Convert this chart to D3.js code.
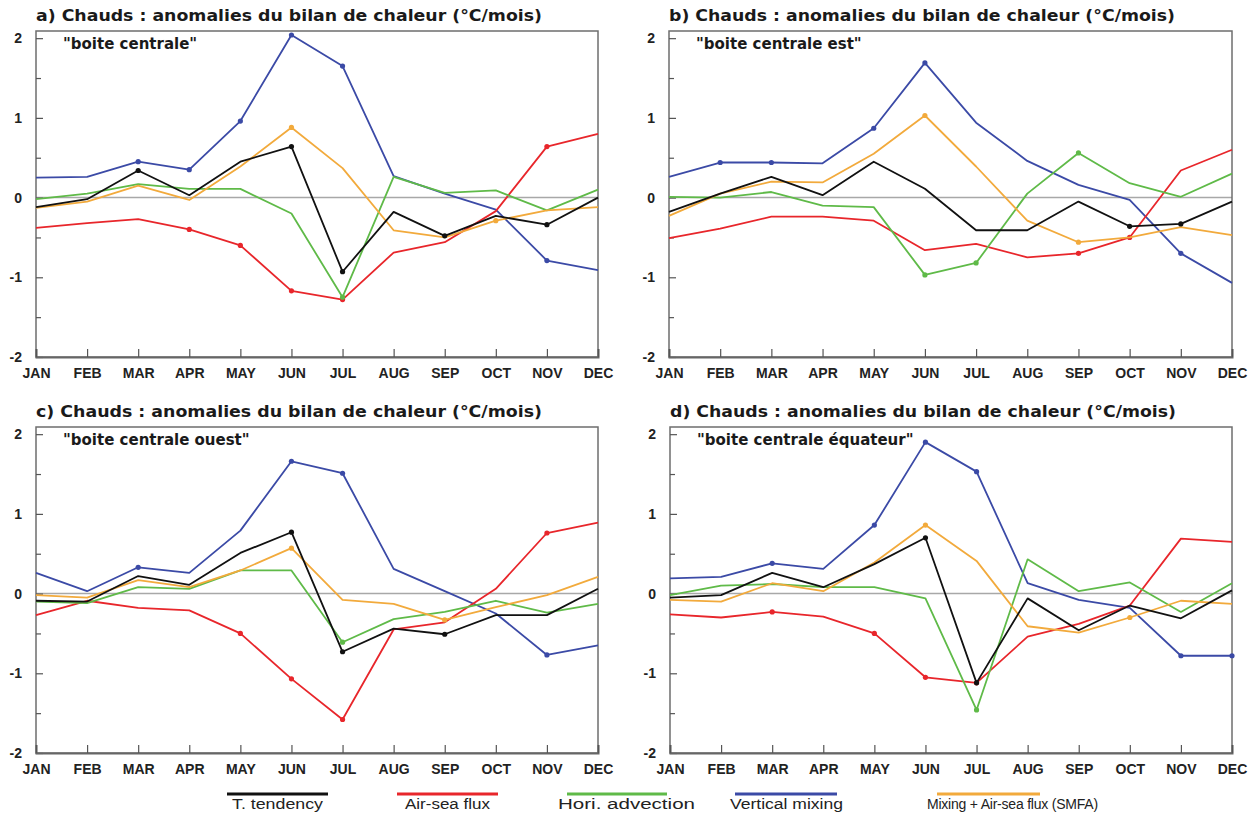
<!DOCTYPE html>
<html>
<head>
<meta charset="utf-8">
<script src="https://cdn.jsdelivr.net/npm/d3@7"></script>
<style>
  html, body { margin: 0; padding: 0; background: #fff; }
  svg { display: block; }
</style>
</head>
<body>
<svg id="chart" width="1257" height="814"></svg>
<script>
// Months on the x axis and integer ticks on the y axis
const months = ["JAN","FEB","MAR","APR","MAY","JUN","JUL","AUG","SEP","OCT","NOV","DEC"];
const yMajorTicks = [-2, -1, 0, 1, 2];
const yMinorTicks = [-1.5, -0.5, 0.5, 1.5];

// Heat-budget terms
const seriesNames = ["T. tendency", "Air-sea flux", "Hori. advection", "Vertical mixing", "Mixing + Air-sea flux (SMFA)"];
const seriesColors = ["#111111", "#e8262b", "#5fba48", "#3b4aa6", "#f2aa3c"];

// a) boite centrale
const tendA = [-0.12, -0.02, 0.34, 0.03, 0.45, 0.64, -0.93, -0.18, -0.48, -0.23, -0.34, 0.00];
const airA  = [-0.38, -0.32, -0.27, -0.40, -0.60, -1.17, -1.28, -0.69, -0.56, -0.17, 0.64, 0.80];
const advA  = [-0.02, 0.05, 0.17, 0.11, 0.11, -0.20, -1.25, 0.26, 0.06, 0.09, -0.16, 0.10];
const mixA  = [0.25, 0.26, 0.45, 0.35, 0.96, 2.04, 1.65, 0.27, 0.05, -0.15, -0.79, -0.91];
const smfaA = [-0.13, -0.05, 0.15, -0.03, 0.39, 0.88, 0.37, -0.41, -0.50, -0.29, -0.16, -0.12];

// b) boite centrale est
const tendB = [-0.18, 0.05, 0.26, 0.03, 0.45, 0.11, -0.41, -0.41, -0.05, -0.36, -0.33, -0.05];
const airB  = [-0.51, -0.39, -0.24, -0.24, -0.29, -0.66, -0.58, -0.75, -0.70, -0.50, 0.34, 0.60];
const advB  = [0.01, 0.00, 0.07, -0.10, -0.12, -0.97, -0.82, 0.05, 0.56, 0.18, 0.01, 0.30];
const mixB  = [0.26, 0.44, 0.44, 0.43, 0.87, 1.69, 0.94, 0.46, 0.16, -0.03, -0.70, -1.07];
const smfaB = [-0.23, 0.05, 0.20, 0.19, 0.55, 1.03, 0.39, -0.29, -0.56, -0.50, -0.37, -0.47];

// c) boite centrale ouest
const tendC = [-0.09, -0.10, 0.22, 0.11, 0.51, 0.77, -0.73, -0.44, -0.51, -0.27, -0.27, 0.06];
const airC  = [-0.27, -0.09, -0.18, -0.21, -0.50, -1.07, -1.58, -0.45, -0.36, 0.06, 0.76, 0.89];
const advC  = [-0.10, -0.12, 0.08, 0.06, 0.29, 0.29, -0.61, -0.32, -0.23, -0.09, -0.24, -0.13];
const mixC  = [0.26, 0.03, 0.33, 0.26, 0.79, 1.66, 1.51, 0.31, 0.03, -0.25, -0.77, -0.65];
const smfaC = [-0.02, -0.05, 0.17, 0.08, 0.29, 0.57, -0.08, -0.13, -0.33, -0.17, -0.02, 0.21];

// d) boite centrale équateur
const tendD = [-0.05, -0.02, 0.26, 0.08, 0.37, 0.70, -1.12, -0.06, -0.46, -0.15, -0.31, 0.04];
const airD  = [-0.26, -0.30, -0.23, -0.29, -0.50, -1.05, -1.12, -0.54, -0.38, -0.15, 0.69, 0.65];
const advD  = [-0.02, 0.10, 0.12, 0.08, 0.08, -0.06, -1.46, 0.43, 0.03, 0.14, -0.23, 0.13];
const mixD  = [0.19, 0.21, 0.38, 0.31, 0.86, 1.90, 1.53, 0.13, -0.08, -0.18, -0.78, -0.78];
const smfaD = [-0.08, -0.10, 0.13, 0.03, 0.39, 0.86, 0.41, -0.41, -0.49, -0.30, -0.09, -0.13];

// Months carrying a symbol, per series (same order as seriesNames)
const marksA = [[2, 5, 6, 8, 10], [3, 4, 5, 6, 10], [6], [2, 3, 4, 5, 6, 10], [5, 9]];
const marksB = [[9, 10], [8, 9], [5, 6, 8], [1, 2, 4, 5, 10], [5, 8]];
const marksC = [[5, 6, 8], [4, 5, 6, 10], [6], [2, 5, 6, 10], [5, 8]];
const marksD = [[5, 6], [2, 4, 5, 6], [6], [2, 4, 5, 6, 10, 11], [5, 9]];

const panelTitles = [
  "a) Chauds : anomalies du bilan de chaleur (°C/mois)",
  "b) Chauds : anomalies du bilan de chaleur (°C/mois)",
  "c) Chauds : anomalies du bilan de chaleur (°C/mois)",
  "d) Chauds : anomalies du bilan de chaleur (°C/mois)"
];
const panelBoxes = ["\"boite centrale\"", "\"boite centrale est\"", "\"boite centrale ouest\"", "\"boite centrale équateur\""];

const panels = [
  { series: [tendA, airA, advA, mixA, smfaA], marks: marksA, left: 36,  right: 598,  top: 31,  bottom: 357 },
  { series: [tendB, airB, advB, mixB, smfaB], marks: marksB, left: 669, right: 1232, top: 31,  bottom: 357 },
  { series: [tendC, airC, advC, mixC, smfaC], marks: marksC, left: 36,  right: 598,  top: 427, bottom: 753 },
  { series: [tendD, airD, advD, mixD, smfaD], marks: marksD, left: 670, right: 1232, top: 427, bottom: 753 }
];

const svg = d3.select("#chart");
const drawOrder = [3, 1, 2, 4, 0];

panels.forEach((p, i) => {
  const x = d3.scalePoint().domain(months).range([p.left, p.right]);
  const y = d3.scaleLinear().domain([-2, 2.09]).range([p.bottom, p.top]);
  const g = svg.append("g");

  // title
  g.append("text")
    .attr("x", p.left).attr("y", p.top - 10)
    .attr("font-family", "DejaVu Sans").attr("font-weight", "bold")
    .attr("font-size", 15).attr("fill", "#1a1a1a")
    .attr("textLength", 506).attr("lengthAdjust", "spacingAndGlyphs")
    .text(panelTitles[i]);

  // zero line
  g.append("line")
    .attr("x1", p.left).attr("x2", p.right)
    .attr("y1", y(0)).attr("y2", y(0))
    .attr("stroke", "#a8a8a8").attr("stroke-width", 1.5);

  // frame
  g.append("rect")
    .attr("x", p.left).attr("y", p.top)
    .attr("width", p.right - p.left).attr("height", p.bottom - p.top)
    .attr("fill", "none").attr("stroke", "#6e6e6e").attr("stroke-width", 1.5);

  // y axis: inward ticks, labels on the left
  const yAxis = g.append("g").attr("transform", `translate(${p.left},0)`)
    .call(d3.axisLeft(y).tickValues(yMajorTicks).tickSize(-7).tickPadding(14).tickFormat(d => String(d)));
  const yMinor = g.append("g").attr("transform", `translate(${p.left},0)`)
    .call(d3.axisLeft(y).tickValues(yMinorTicks).tickSize(-5).tickFormat(""));
  [yAxis, yMinor].forEach(a => {
    a.select(".domain").remove();
    a.selectAll(".tick line").attr("stroke", "#555").attr("stroke-width", 1.2);
  });
  yAxis.selectAll(".tick text")
    .attr("font-family", "Liberation Sans").attr("font-weight", "bold")
    .attr("font-size", 14).attr("fill", "#222");

  // x axis: upward ticks, month labels below
  const xAxis = g.append("g").attr("transform", `translate(0,${p.bottom})`)
    .call(d3.axisBottom(x).tickSize(-8).tickPadding(11));
  xAxis.select(".domain").attr("stroke", "#666").attr("stroke-width", 2);
  xAxis.selectAll(".tick line").attr("stroke", "#555").attr("stroke-width", 1.2);
  xAxis.selectAll(".tick text")
    .attr("font-family", "Liberation Sans").attr("font-weight", "bold")
    .attr("font-size", 14).attr("fill", "#222");

  // series lines and symbols
  const line = d3.line().x((d, k) => x(months[k])).y(d => y(d));
  drawOrder.forEach(s => {
    g.append("path")
      .datum(p.series[s])
      .attr("d", line)
      .attr("fill", "none")
      .attr("stroke", seriesColors[s])
      .attr("stroke-width", 1.8)
      .attr("stroke-linejoin", "round");
    g.selectAll(null)
      .data(p.marks[s])
      .enter().append("circle")
      .attr("cx", k => x(months[k]))
      .attr("cy", k => y(p.series[s][k]))
      .attr("r", 2.6)
      .attr("fill", seriesColors[s]);
  });

  // box name
  g.append("text")
    .attr("x", p.left + 27).attr("y", p.top + 18)
    .attr("font-family", "DejaVu Sans").attr("font-weight", "bold")
    .attr("font-size", 15).attr("fill", "#1a1a1a")
    .text(panelBoxes[i]);
});

// legend along the bottom: a short line with its label centred below
const legendLines = [[227, 328], [397, 498], [567, 667], [735, 837], [937, 1040]];
const legendText = [[232, 323], [405, 490], [558, 695], [730, 843], [927, 1098]];
const legend = svg.append("g");
seriesNames.forEach((name, s) => {
  legend.append("line")
    .attr("x1", legendLines[s][0]).attr("x2", legendLines[s][1])
    .attr("y1", 794).attr("y2", 794)
    .attr("stroke", seriesColors[s]).attr("stroke-width", 3);
  const target = legendText[s][1] - legendText[s][0];
  const t = legend.append("text")
    .attr("x", legendText[s][0]).attr("y", 809)
    .attr("font-family", "Liberation Sans").attr("font-size", 14).attr("fill", "#222")
    .text(name);
  const natural = t.node().getComputedTextLength();
  if (natural > target) {
    // long label: tighten letter spacing rather than shrinking the glyphs
    const gap = (target - natural) / (name.length - 1);
    t.attr("letter-spacing", gap.toFixed(2));
  } else {
    t.attr("textLength", target).attr("lengthAdjust", "spacingAndGlyphs");
  }
});
</script>
</body>
</html>
